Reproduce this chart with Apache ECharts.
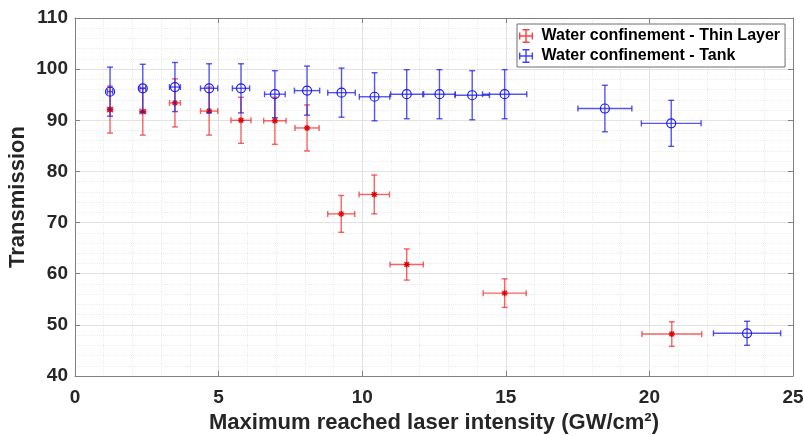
<!DOCTYPE html>
<html>
<head>
<meta charset="utf-8">
<script src="https://cdn.jsdelivr.net/npm/echarts@6/dist/echarts.min.js"></script>
<style>
html,body{margin:0;padding:0;background:#fff;}
#chart{width:804px;height:436px;}
</style>
</head>
<body>
<div id="chart"></div>
<script>
// ---- Data ----
const thinX    = [1.22, 2.36, 3.48, 4.67, 5.78, 6.96, 8.08, 9.27, 10.42, 11.55, 14.96, 20.78];
const thinY    = [92.1, 91.7, 93.4, 91.8, 90.0, 89.9, 88.5, 71.7, 75.5, 61.8, 56.2, 48.2];
const thinXErr = [0.09, 0.1, 0.19, 0.3, 0.35, 0.39, 0.42, 0.47, 0.53, 0.58, 0.75, 1.04];
const thinYErr = [4.6, 4.6, 4.7, 4.7, 4.5, 4.6, 4.5, 3.6, 3.8, 3.05, 2.8, 2.4];

const tankX    = [1.22, 2.36, 3.48, 4.67, 5.78, 6.96, 8.08, 9.28, 10.43, 11.55, 12.69, 13.83, 14.96, 18.45, 20.76, 23.4];
const tankY    = [95.6, 96.25, 96.5, 96.25, 96.25, 95.1, 95.8, 95.4, 94.6, 95.1, 95.1, 94.9, 95.1, 92.3, 89.4, 48.35];
const tankXErr = [0.09, 0.1, 0.19, 0.3, 0.3, 0.36, 0.44, 0.48, 0.53, 0.56, 0.55, 0.6, 0.77, 0.94, 1.04, 1.17];
const tankYErr = [4.8, 4.7, 4.8, 4.8, 4.8, 4.6, 4.8, 4.8, 4.7, 4.8, 4.8, 4.8, 4.8, 4.55, 4.5, 2.35];

const seriesNames = ['Water confinement - Thin Layer', 'Water confinement - Tank'];
const xTicks = { min: 0, max: 25, interval: 5 };
const yTicks = { min: 40, max: 110, interval: 10 };

const FONT = '"Liberation Sans", Arial, Helvetica, sans-serif';

function makeRender(barColor, markerColor, markerType) {
  return function (params, api) {
    const x = api.value(0), y = api.value(1), ex = api.value(2), ey = api.value(3);
    const c = api.coord([x, y]);
    const l = api.coord([x - ex, y]), r = api.coord([x + ex, y]);
    const t = api.coord([x, y + ey]), b = api.coord([x, y - ey]);
    const cap = 3;
    const st = { stroke: barColor, lineWidth: 1.4, fill: null };
    const line = (x1, y1, x2, y2, s) => ({ type: 'line', shape: { x1, y1, x2, y2 }, style: s || st });
    const children = [
      line(c[0], t[1], c[0], b[1]),
      line(c[0] - cap, t[1], c[0] + cap, t[1]),
      line(c[0] - cap, b[1], c[0] + cap, b[1]),
      line(l[0], c[1], r[0], c[1]),
      line(l[0], c[1] - cap, l[0], c[1] + cap),
      line(r[0], c[1] - cap, r[0], c[1] + cap)
    ];
    if (markerType === 'circle') {
      children.push({ type: 'circle', shape: { cx: c[0], cy: c[1], r: 4.5 },
        style: { fill: 'none', stroke: markerColor, lineWidth: 1.2 } });
    } else {
      const ms = { stroke: markerColor, lineWidth: 1.3 };
      const s = 3;
      children.push(line(c[0] - s, c[1], c[0] + s, c[1], ms));
      children.push(line(c[0], c[1] - s, c[0], c[1] + s, ms));
      children.push(line(c[0] - s * 0.75, c[1] - s * 0.75, c[0] + s * 0.75, c[1] + s * 0.75, ms));
      children.push(line(c[0] - s * 0.75, c[1] + s * 0.75, c[0] + s * 0.75, c[1] - s * 0.75, ms));
    }
    return { type: 'group', children };
  };
}

const legendIcon = 'path://M0,9H20V11H0Z M9,0H11V20H9Z M0,5H2V15H0Z M18,5H20V15H18Z M5,0H15V2H5Z M5,18H15V20H5Z';

const axisLineColor = '#808080';
const labelStyle = { fontSize: 19, fontWeight: 'bold', color: '#262626', fontFamily: FONT };

const chart = echarts.init(document.getElementById('chart'), null, { renderer: 'canvas' });
chart.setOption({
  animation: false,
  backgroundColor: '#fff',
  grid: { left: 75, right: 11, top: 18, bottom: 60, containLabel: false, outerBoundsMode: 'none' },
  legend: {
    orient: 'vertical',
    left: 517, top: 24,
    itemWidth: 21, itemHeight: 14, itemGap: 4,
    padding: [4, 5, 3, 2],
    borderColor: '#6e6e6e', borderWidth: 1,
    backgroundColor: '#fff',
    textStyle: { fontSize: 16, fontWeight: 'bold', color: '#000', fontFamily: FONT },
    data: [
      { name: seriesNames[0], icon: legendIcon, itemStyle: { color: 'rgba(255,0,0,0.75)' } },
      { name: seriesNames[1], icon: legendIcon, itemStyle: { color: 'rgba(0,0,255,0.75)' } }
    ]
  },
  xAxis: [
    {
      type: 'value', position: 'bottom', min: xTicks.min, max: xTicks.max, interval: xTicks.interval,
      name: 'Maximum reached laser intensity (GW/cm²)', nameLocation: 'middle', nameGap: 36,
      nameMoveOverlap: false,
      nameTextStyle: { fontSize: 22, fontWeight: 'bold', color: '#262626', fontFamily: FONT },
      axisLine: { show: true, onZero: false, lineStyle: { color: axisLineColor, width: 1 } },
      axisTick: { show: true, inside: true, length: 5, lineStyle: { color: axisLineColor } },
      axisLabel: Object.assign({ margin: 12 }, labelStyle),
      splitLine: { show: true, lineStyle: { color: '#e2e2e2', width: 1 } },
      minorTick: { show: false, splitNumber: 5 },
      minorSplitLine: { show: true, lineStyle: { color: '#ebebeb', type: 'dotted', width: 1 } }
    },
    {
      type: 'value', position: 'top', min: xTicks.min, max: xTicks.max, interval: xTicks.interval,
      axisLine: { show: true, onZero: false, lineStyle: { color: axisLineColor, width: 1 } },
      axisTick: { show: true, inside: true, length: 5, lineStyle: { color: axisLineColor } },
      axisLabel: { show: false }, splitLine: { show: false }
    }
  ],
  yAxis: [
    {
      type: 'value', position: 'left', min: yTicks.min, max: yTicks.max, interval: yTicks.interval,
      name: 'Transmission', nameLocation: 'middle', nameGap: 46,
      nameMoveOverlap: false,
      nameTextStyle: { fontSize: 22, fontWeight: 'bold', color: '#262626', fontFamily: FONT },
      axisLine: { show: true, onZero: false, lineStyle: { color: axisLineColor, width: 1 } },
      axisTick: { show: true, inside: true, length: 5, lineStyle: { color: axisLineColor } },
      axisLabel: Object.assign({ margin: 7 }, labelStyle),
      splitLine: { show: true, lineStyle: { color: '#e2e2e2', width: 1 } },
      minorTick: { show: false, splitNumber: 5 },
      minorSplitLine: { show: true, lineStyle: { color: '#ebebeb', type: 'dotted', width: 1 } }
    },
    {
      type: 'value', position: 'right', min: yTicks.min, max: yTicks.max, interval: yTicks.interval,
      axisLine: { show: true, onZero: false, lineStyle: { color: axisLineColor, width: 1 } },
      axisTick: { show: true, inside: true, length: 5, lineStyle: { color: axisLineColor } },
      axisLabel: { show: false }, splitLine: { show: false }
    }
  ],
  series: [
    {
      name: seriesNames[0], type: 'custom', xAxisIndex: 0, yAxisIndex: 0,
      itemStyle: { color: 'rgba(255,0,0,0.75)' },
      encode: { x: 0, y: 1 },
      renderItem: makeRender('rgba(240,40,40,0.72)', '#e00000', 'star'),
      data: thinX.map((x, i) => [x, thinY[i], thinXErr[i], thinYErr[i]]),
      z: 3
    },
    {
      name: seriesNames[1], type: 'custom', xAxisIndex: 0, yAxisIndex: 0,
      itemStyle: { color: 'rgba(0,0,255,0.75)' },
      encode: { x: 0, y: 1 },
      renderItem: makeRender('rgba(30,30,230,0.75)', '#1a1aff', 'circle'),
      data: tankX.map((x, i) => [x, tankY[i], tankXErr[i], tankYErr[i]]),
      z: 4
    }
  ]
});
</script>
</body>
</html>
